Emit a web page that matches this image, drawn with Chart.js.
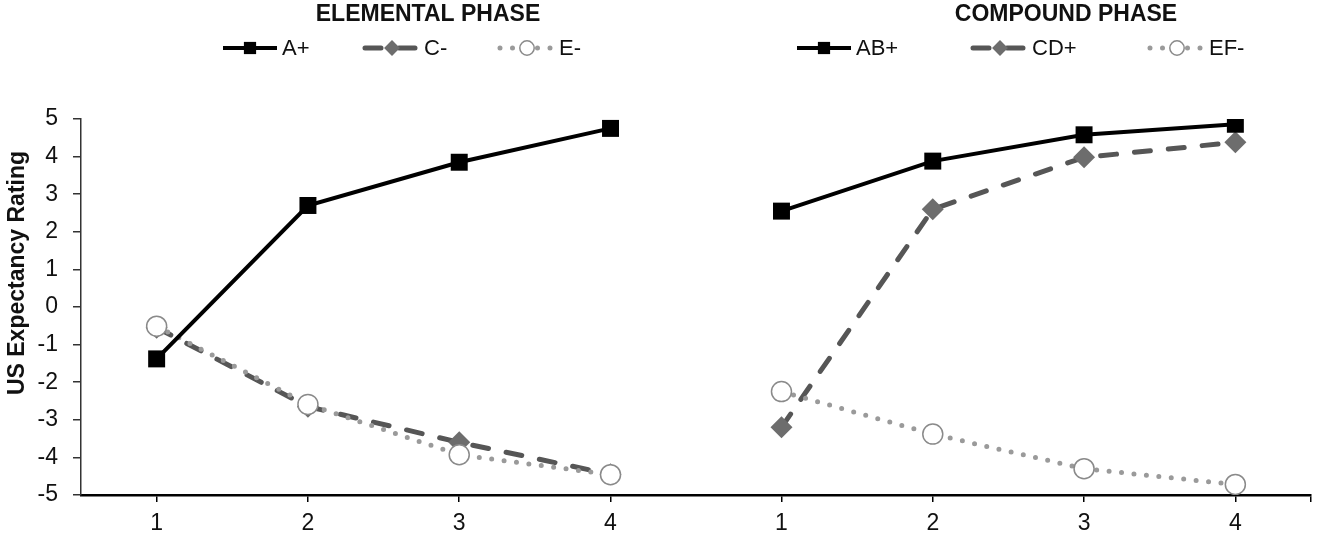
<!DOCTYPE html>
<html>
<head>
<meta charset="utf-8">
<title>US Expectancy Rating</title>
<script src="https://cdn.jsdelivr.net/npm/chart.js@4.4.1/dist/chart.umd.min.js"></script>
<style>
    html, body { margin: 0; padding: 0; background: #fff; }
    #wrap { width: 1323px; height: 537px; position: relative; }
</style>
</head>
<body>
<div id="wrap"><canvas id="chart"></canvas></div>
<script>
// trial numbers, and how far the compound phase is pushed right on the shared x axis
const trials = [1, 2, 3, 4];
const compoundShift = 4.13;

const yMin = -5;
const yMax = 5;

const phaseTitles = ['ELEMENTAL PHASE', 'COMPOUND PHASE'];
const elementalLabels = ['A+', 'C-', 'E-'];
const compoundLabels = ['AB+', 'CD+', 'EF-'];

const elementalA = [-1.38, 2.7, 3.85, 4.75];
const elementalC = [-0.55, -2.65, -3.6, -4.45];
const elementalE = [-0.51, -2.59, -3.93, -4.46];

const compoundAB = [2.55, 3.88, 4.58, 4.86];
const compoundCD = [-3.2, 2.6, 3.98, 4.38];
const compoundEF = [-2.25, -3.38, -4.3, -4.72];

const yTitle = 'US Expectancy Rating';

const FONT = '"Liberation Sans", Arial, Helvetica, sans-serif';

const toPoints = (values, shift) => trials.map((t, i) => ({ x: t + shift, y: values[i] }));

const solidStyle = {
    borderColor: '#000',
    borderWidth: 4,
    pointStyle: 'rect',
    pointRadius: 12,
    pointBackgroundColor: '#000',
    pointBorderColor: '#000',
    pointBorderWidth: 0,
    order: 0,
};

const dashedStyle = {
    borderColor: '#565656',
    borderWidth: 5,
    borderDash: [16, 18],
    borderCapStyle: 'round',
    pointStyle: 'rectRot',
    pointRadius: 11,
    pointBackgroundColor: '#6d6d6d',
    pointBorderColor: '#6d6d6d',
    pointBorderWidth: 0,
    order: 2,
};

const dottedStyle = {
    borderColor: '#9a9a9a',
    borderWidth: 5,
    borderDash: [0, 12.5],
    borderCapStyle: 'round',
    pointStyle: 'circle',
    pointRadius: 10,
    pointBackgroundColor: '#fff',
    pointBorderColor: '#8a8a8a',
    pointBorderWidth: 1.5,
    order: 1,
};

const xTickValues = trials.concat(trials.map((t) => t + compoundShift));
const xMin = 0.5;
const xMax = 8.63;

const phaseHeader = {
    id: 'phaseHeader',
    afterDraw(chart, args, opts) {
        const ctx = chart.ctx;
        ctx.save();
        opts.groups.forEach((group) => {
            ctx.font = 'bold 23px ' + FONT;
            ctx.fillStyle = '#111';
            ctx.textAlign = 'center';
            ctx.textBaseline = 'middle';
            ctx.fillText(group.title, group.titleX, opts.titleY);

            group.datasets.forEach((di, k) => {
                const ds = chart.data.datasets[di];
                const x = group.itemX[k];
                const y = opts.legendY;
                const w = opts.symbolWidth;

                ctx.save();
                ctx.strokeStyle = ds.borderColor;
                ctx.lineWidth = ds.borderWidth;
                ctx.lineCap = ds.borderCapStyle || 'butt';
                ctx.setLineDash(ds.borderDash || []);
                ctx.lineDashOffset = opts.dashOffset;
                ctx.beginPath();
                ctx.moveTo(x, y);
                ctx.lineTo(x + w, y);
                ctx.stroke();
                ctx.setLineDash([]);

                ctx.fillStyle = ds.pointBackgroundColor;
                ctx.strokeStyle = ds.pointBorderColor;
                ctx.lineWidth = ds.pointBorderWidth;
                Chart.helpers.drawPoint(ctx, {
                    pointStyle: ds.pointStyle,
                    radius: ds.pointRadius * 0.72,
                    borderWidth: ds.pointBorderWidth,
                    rotation: 0,
                }, x + w / 2, y);
                ctx.restore();

                ctx.font = '22px ' + FONT;
                ctx.fillStyle = '#111';
                ctx.textAlign = 'left';
                ctx.textBaseline = 'middle';
                ctx.fillText(ds.label, x + w + 5, y + 1);
            });
        });

        // y axis title sits a bit above the middle of the axis, as in the source
        ctx.translate(opts.yTitleX, opts.yTitleY);
        ctx.rotate(-Math.PI / 2);
        ctx.font = 'bold 23px ' + FONT;
        ctx.fillStyle = '#111';
        ctx.textAlign = 'center';
        ctx.textBaseline = 'middle';
        ctx.fillText(yTitle, 0, 0);
        ctx.restore();
    },
};

const datasets = [
    Object.assign({ label: elementalLabels[0], data: toPoints(elementalA, 0) }, solidStyle),
    Object.assign({ label: elementalLabels[1], data: toPoints(elementalC, 0) }, dashedStyle),
    Object.assign({ label: elementalLabels[2], data: toPoints(elementalE, 0) }, dottedStyle),
    Object.assign({ label: compoundLabels[0], data: toPoints(compoundAB, compoundShift) }, solidStyle),
    Object.assign({ label: compoundLabels[1], data: toPoints(compoundCD, compoundShift) }, dashedStyle),
    Object.assign({ label: compoundLabels[2], data: toPoints(compoundEF, compoundShift) }, dottedStyle),
];

new Chart(document.getElementById('chart'), {
    type: 'line',
    data: { datasets },
    plugins: [phaseHeader],
    options: {
        responsive: true,
        maintainAspectRatio: false,
        animation: false,
        layout: {
            padding: { top: 119, right: 6, bottom: 0, left: 0 },
        },
        plugins: {
            legend: { display: false },
            tooltip: { enabled: false },
            phaseHeader: {
                titleY: 15,
                legendY: 48,
                symbolWidth: 54,
                dashOffset: 0,
                yTitleX: 18,
                yTitleY: 273,
                groups: [
                    { title: phaseTitles[0], titleX: 428, datasets: [0, 1, 2], itemX: [223, 365, 500] },
                    { title: phaseTitles[1], titleX: 1066, datasets: [3, 4, 5], itemX: [797, 973, 1150] },
                ],
            },
        },
        scales: {
            x: {
                type: 'linear',
                min: xMin,
                max: xMax,
                afterBuildTicks: (scale) => {
                    scale.ticks = xTickValues.concat([xMax]).map((v) => ({ value: v }));
                },
                afterFit: (scale) => {
                    scale.height = 42;
                },
                ticks: {
                    autoSkip: false,
                    maxRotation: 0,
                    padding: 8,
                    color: '#111',
                    font: { family: FONT, size: 23 },
                    callback: (value) => {
                        const i = xTickValues.indexOf(value);
                        return i < 0 ? '' : String(trials[i % trials.length]);
                    },
                },
                grid: {
                    drawOnChartArea: false,
                    drawTicks: true,
                    tickLength: 7,
                    color: '#000',
                    lineWidth: 1.5,
                },
                border: { display: true, color: '#000', width: 2.5 },
            },
            y: {
                type: 'linear',
                min: yMin,
                max: yMax,
                afterFit: (scale) => {
                    scale.width = 81;
                },
                ticks: {
                    stepSize: 1,
                    padding: 15,
                    color: '#111',
                    font: { family: FONT, size: 23 },
                },
                grid: {
                    drawOnChartArea: false,
                    drawTicks: true,
                    tickLength: 8,
                    color: '#333',
                    lineWidth: 1.5,
                },
                border: { display: true, color: '#333', width: 1.5 },
            },
        },
    },
});
</script>
</body>
</html>
